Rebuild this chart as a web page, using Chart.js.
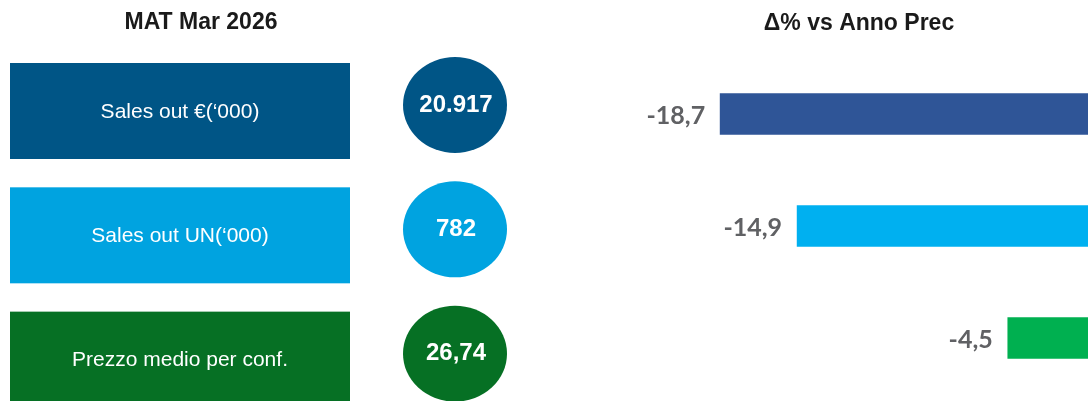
<!DOCTYPE html>
<html>
<head>
<meta charset="utf-8">
<script src="https://cdn.jsdelivr.net/npm/chart.js@4/dist/chart.umd.min.js"></script>
<style>
  body { margin: 0; background: #fff; }
  #wrap { width: 1088px; height: 401px; }
</style>
</head>
<body>
<div id="wrap"><canvas id="kpiChart" width="1088" height="401"></canvas></div>
<script>
const categories = ['Sales out \u20ac(\u2018000)', 'Sales out UN(\u2018000)', 'Prezzo medio per conf.']
const matValues = ['20.917', '782', '26,74']
const deltaValues = [-18.7, -14.9, -4.5]
const boxColors = ['#005586', '#00a3e0', '#067024']
const barColors = ['#2f5597', '#00b0f0', '#00b050']

// left panel: boxes + circles, plus the two headings
const panelPlugin = {
    id: 'panel',
    afterDraw(chart) {
        const ctx = chart.ctx
        const y = chart.scales.y
        ctx.save()
        ctx.fillStyle = '#1a1a1a'
        ctx.textAlign = 'center'
        ctx.textBaseline = 'middle'
        ctx.font = 'bold 23px "Liberation Sans", Arial'
        ctx.fillText('MAT Mar 2026', 201, 23)
        ctx.fillText('\u0394% vs Anno Prec', 859, 24)

        categories.forEach((c, i) => {
            // left rows are a bit more spread out than the bars
            const yc = 111 + (y.getPixelForValue(i) - 114) * 1.11
            ctx.fillStyle = boxColors[i]
            ctx.fillRect(10, yc - 48, 340, 96)
            ctx.fillStyle = '#fff'
            ctx.font = '21px "Liberation Sans", Arial'
            ctx.fillText(c, 180, yc + 1)

            ctx.fillStyle = boxColors[i]
            ctx.beginPath()
            ctx.ellipse(455, yc - 6, 52, 48, 0, 0, Math.PI * 2)
            ctx.fill()
            ctx.fillStyle = '#fff'
            ctx.font = 'bold 24px "Liberation Sans", Arial'
            ctx.fillText(matValues[i], 456, yc - 6)
        })

        // value labels left of each bar
        const meta = chart.getDatasetMeta(0)
        ctx.fillStyle = '#606164'
        ctx.textAlign = 'right'
        ctx.font = 'bold 25px Lato, "Open Sans", sans-serif'
        meta.data.forEach((bar, i) => {
            const txt = deltaValues[i].toFixed(1).replace('.', ',')
            ctx.fillText(txt, bar.x - 15, bar.y + 2)
        })
        ctx.restore()
    }
}

new Chart('kpiChart', {
    type: 'bar',
    data: {
        labels: categories,
        datasets: [{
            data: deltaValues,
            backgroundColor: barColors,
            borderWidth: 0,
            barThickness: 41
        }]
    },
    options: {
        indexAxis: 'y',
        responsive: false,
        animation: false,
        layout: { padding: { left: 600, right: 0, top: 58, bottom: 7 } },
        scales: {
            x: { display: false, min: -24.63, max: -0.54 },
            y: { display: false }
        },
        plugins: {
            legend: { display: false },
            tooltip: { enabled: false }
        }
    },
    plugins: [panelPlugin]
})
</script>
</body>
</html>
